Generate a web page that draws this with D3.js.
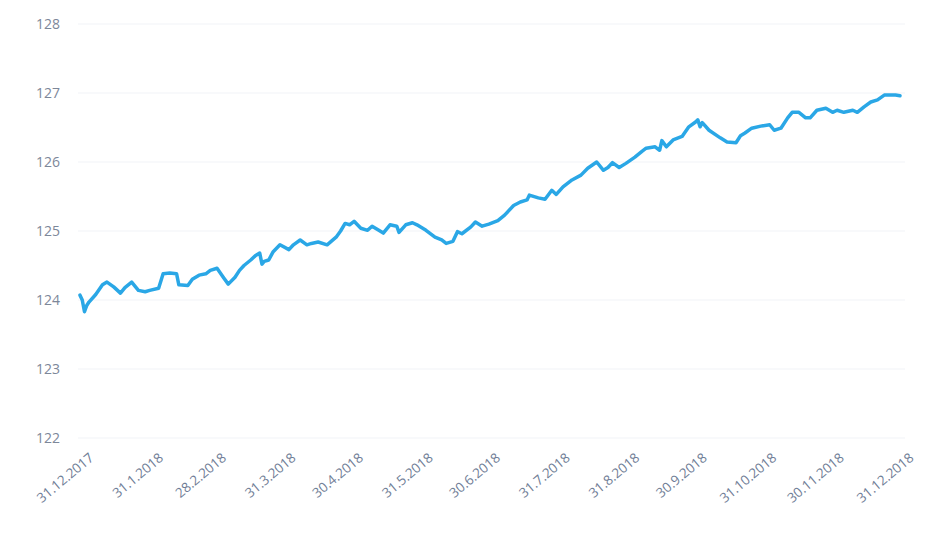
<!DOCTYPE html>
<html>
<head>
<meta charset="utf-8">
<script src="https://cdn.jsdelivr.net/npm/d3@7"></script>
<style>
  html, body { margin: 0; padding: 0; background: #ffffff; }
  svg { display: block; }
  text { font-family: "Open Sans", "Lato", sans-serif; }
</style>
</head>
<body>
<svg id="chart" width="927" height="552"></svg>
<script>
// ---- data ----
// days elapsed since 31.12.2017
const dayOffsets = [0,1,2,3,4,7,10,12,15,18,20,23,26,29,31,35,37,40,43,44,48,50,53,56,58,61,64,66,69,71,73,76,78,80,81,82,84,86,89,93,95,98,101,103,106,110,114,116,118,120,122,125,128,130,133,135,138,141,142,145,148,150,154,158,161,163,166,168,170,174,176,179,182,186,189,193,196,199,200,204,207,210,212,215,219,223,226,230,233,235,237,240,243,247,250,252,256,258,259,261,264,268,271,274,275,276,277,280,285,288,292,294,296,299,303,307,309,312,315,317,320,323,325,328,332,335,337,340,344,346,349,352,355,358,363,365];
const values = [124.07,124.00,123.83,123.92,123.97,124.08,124.22,124.26,124.19,124.10,124.18,124.26,124.14,124.12,124.14,124.17,124.38,124.39,124.38,124.22,124.21,124.30,124.36,124.38,124.43,124.46,124.32,124.23,124.33,124.43,124.50,124.58,124.64,124.68,124.52,124.56,124.58,124.70,124.80,124.73,124.80,124.87,124.80,124.82,124.84,124.80,124.91,125.00,125.11,125.09,125.14,125.04,125.01,125.07,125.01,124.97,125.09,125.07,124.98,125.09,125.12,125.09,125.01,124.91,124.87,124.82,124.85,124.99,124.96,125.06,125.13,125.07,125.10,125.15,125.23,125.37,125.42,125.45,125.52,125.48,125.46,125.59,125.53,125.64,125.74,125.81,125.91,126.00,125.88,125.92,125.99,125.92,125.98,126.07,126.15,126.20,126.22,126.17,126.31,126.22,126.32,126.37,126.51,126.58,126.61,126.51,126.57,126.46,126.35,126.29,126.28,126.38,126.42,126.49,126.52,126.54,126.46,126.49,126.64,126.72,126.72,126.64,126.64,126.75,126.78,126.72,126.75,126.72,126.75,126.72,126.80,126.87,126.90,126.97,126.97,126.96];
const xTickLabels = ["31.12.2017","31.1.2018","28.2.2018","31.3.2018","30.4.2018","31.5.2018","30.6.2018","31.7.2018","31.8.2018","30.9.2018","31.10.2018","30.11.2018","31.12.2018"];
const yTicks = [122,123,124,125,126,127,128];

// ---- setup ----
const svg = d3.select("#chart");
const parseDate = d3.timeParse("%d.%m.%Y");
const startDate = parseDate(xTickLabels[0]);
const endDate = parseDate(xTickLabels[xTickLabels.length - 1]);
const data = dayOffsets.map((d, i) => ({ date: d3.timeDay.offset(startDate, d), value: values[i] }));
const tickDates = xTickLabels.map(parseDate);

const x = d3.scaleTime().domain([startDate, endDate]).range([80, 900]);
const y = d3.scaleLinear().domain([122, 128]).range([438, 24]);

// faint gridlines
svg.append("g")
  .selectAll("line")
  .data(yTicks)
  .join("line")
  .attr("x1", 78).attr("x2", 905)
  .attr("y1", d => y(d)).attr("y2", d => y(d))
  .attr("stroke", "#f1f3f7").attr("stroke-width", 1);

// y axis (labels only)
const yAxis = d3.axisLeft(y).tickValues(yTicks).tickSize(0).tickPadding(0).tickFormat(d3.format("d"));
const gy = svg.append("g").attr("transform", "translate(60,0)").call(yAxis);
gy.select(".domain").remove();
gy.selectAll("text")
  .attr("fill", "#7d8799")
  .style("font-size", "14px")
  .attr("dy", "0.35em");

// x axis (rotated labels only)
const xAxis = d3.axisBottom(x).tickValues(tickDates).tickSize(0).tickPadding(0)
  .tickFormat((d, i) => xTickLabels[i]);
const gx = svg.append("g").attr("transform", "translate(0,452)").call(xAxis);
gx.select(".domain").remove();
gx.selectAll("text")
  .attr("fill", "#6f7d96")
  .style("font-size", "13.5px")
  .attr("text-anchor", "end")
  .attr("x", 0).attr("y", 0).attr("dy", "0.7em")
  .attr("transform", "translate(8,0) rotate(-40)");

// line
const line = d3.line().x(d => x(d.date)).y(d => y(d.value)).curve(d3.curveLinear);
svg.append("path")
  .datum(data)
  .attr("fill", "none")
  .attr("stroke", "#2aa7e6")
  .attr("stroke-width", 3.5)
  .attr("stroke-linejoin", "round")
  .attr("stroke-linecap", "round")
  .attr("d", line);
</script>
</body>
</html>
